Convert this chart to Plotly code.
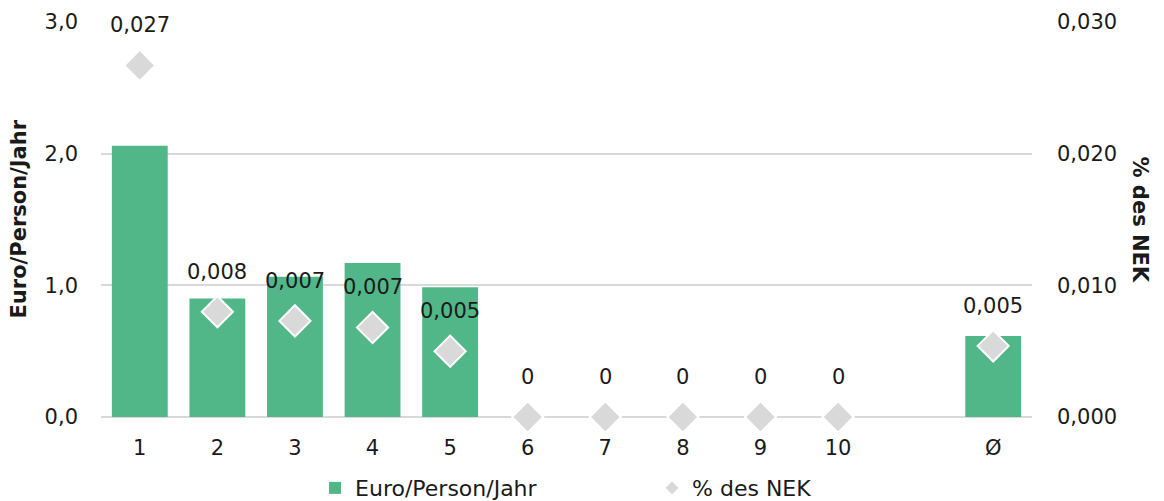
import plotly.graph_objects as go

categories = ["1", "2", "3", "4", "5", "6", "7", "8", "9", "10", " ", "Ø"]
euro_values = [2.06, 0.90, 1.065, 1.17, 0.985, 0, 0, 0, 0, 0, None, 0.615]
nek_values = [0.0267, 0.0080, 0.0073, 0.0068, 0.0050, 0, 0, 0, 0, 0, None, 0.0054]
nek_labels = ["0,027", "0,008", "0,007", "0,007", "0,005", "0", "0", "0", "0", "0", "", "0,005"]
left_ticks = [0, 1, 2, 3]
right_ticks = [0, 0.01, 0.02, 0.03]

FONT = "DejaVu Sans"
TXT = "#1a1a1a"
GREEN = "#52B788"
GREY = "#D9D9D9"
FS = 21

fig = go.Figure()
fig.add_trace(go.Bar(
    x=categories, y=euro_values, name="Euro/Person/Jahr",
    marker=dict(color=GREEN, line=dict(width=0)), yaxis="y",
))
fig.add_trace(go.Scatter(
    x=categories, y=nek_values, name="% des NEK", mode="markers",
    marker=dict(symbol="diamond", size=24, color=GREY, line=dict(color="white", width=2)),
    yaxis="y2", cliponaxis=False,
))

annotations = []
for i, (v, t) in enumerate(zip(nek_values, nek_labels)):
    if v is None:
        continue
    annotations.append(dict(
        x=i, y=v, xref="x", yref="y2", text=t, showarrow=False,
        yshift=40, font=dict(family=FONT, size=21, color=TXT),
    ))
annotations.append(dict(
    x=0, xref="paper", xanchor="center", xshift=-83, y=0.5, yref="paper",
    text="<b>Euro/Person/Jahr</b>", textangle=-90, showarrow=False,
    font=dict(family=FONT, size=21, color=TXT),
))
annotations.append(dict(
    x=1, xref="paper", xanchor="center", xshift=108, y=0.5, yref="paper",
    text="<b>% des NEK</b>", textangle=90, showarrow=False,
    font=dict(family=FONT, size=21, color=TXT),
))

fig.update_layout(
    width=1164, height=501,
    margin=dict(l=93, r=140, t=14, b=92, autoexpand=False),
    paper_bgcolor="white", plot_bgcolor="white",
    separators=",.",
    bargap=0.28,
    font=dict(family=FONT, size=FS, color=TXT),
    showlegend=True,
    legend=dict(orientation="h", x=0.2299, xanchor="left", y=-0.18, yanchor="middle",
                font=dict(family=FONT, size=22, color=TXT), entrywidth=292,
                itemsizing="constant"),
    xaxis=dict(type="category", categoryorder="array", categoryarray=categories,
               range=[-0.5, 11.5],
               showgrid=False, showline=False, ticks="", ticklabelstandoff=16,
               automargin=False, tickfont=dict(family=FONT, size=FS, color=TXT)),
    yaxis=dict(range=[0, 3], tickvals=left_ticks, tickformat=".1f",
               showgrid=True, gridcolor=GREY, gridwidth=2, zeroline=True,
               zerolinecolor=GREY, zerolinewidth=2, showline=False, automargin=False,
               ticklabelstandoff=22, tickfont=dict(family=FONT, size=FS, color=TXT)),
    yaxis2=dict(range=[0, 0.03], tickvals=right_ticks, tickformat=".3f",
                overlaying="y", side="right", showgrid=False, zeroline=False,
                showline=False, ticklabelstandoff=24, automargin=False,
                tickfont=dict(family=FONT, size=FS, color=TXT)),
    annotations=annotations,
)

fig.write_html("out.html")
